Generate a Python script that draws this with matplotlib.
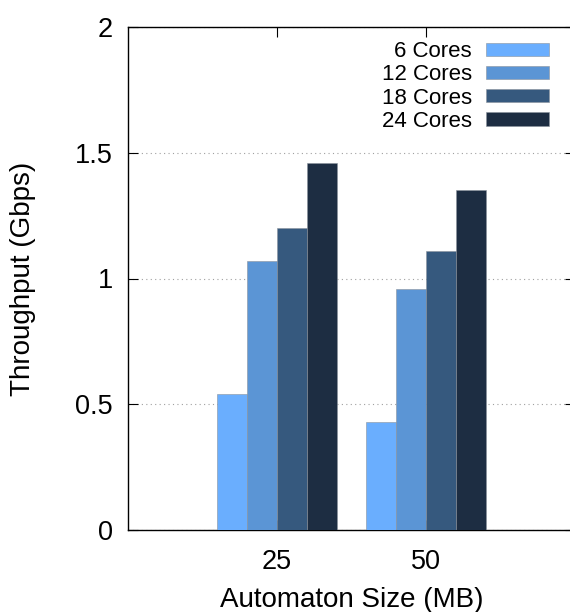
import matplotlib.pyplot as plt
import numpy as np

plt.rcParams['font.family'] = ['Liberation Sans', 'DejaVu Sans']

sizes = ['25', '50']
cores = ['6 Cores', '12 Cores', '18 Cores', '24 Cores']
throughput = {
    '6 Cores': [0.54, 0.43],
    '12 Cores': [1.07, 0.96],
    '18 Cores': [1.20, 1.11],
    '24 Cores': [1.46, 1.35],
}
colors = ['#6aaefe', '#5b95d5', '#36597e', '#1d2d42']


def main():
    fig = plt.figure(figsize=(5.7, 6.12), dpi=100)
    ax = fig.add_axes([128 / 570, 82 / 612, 447 / 570, 503 / 612])

    x = np.arange(1, len(sizes) + 1)
    width = 0.2
    for i, (name, col) in enumerate(zip(cores, colors)):
        ax.bar(x + (i - 1.5) * width, throughput[name], width, color=col,
               edgecolor='#8a929c', linewidth=0.4, label=name, zorder=3)

    ax.set_xlim(0, 3)
    ax.set_ylim(0, 2)
    ax.set_xticks(x)
    ax.set_xticklabels(sizes)
    ax.set_yticks([0, 0.5, 1, 1.5, 2])
    ax.set_yticklabels(['0', '0.5', '1', '1.5', '2'])
    ax.tick_params(direction='in', top=True, right=True, labelsize=19.5,
                   length=7, width=0.8)
    ax.tick_params(axis='x', pad=14)
    ax.tick_params(axis='y', pad=11)
    ax.yaxis.grid(True, linestyle=(0, (1, 3)), color='#a0a0a0', linewidth=0.8, zorder=0)
    for s in ax.spines.values():
        s.set_linewidth(1.0)

    ax.set_xlabel('Automaton Size (MB)', fontsize=20, labelpad=8)
    ax.set_ylabel('Throughput (Gbps)', fontsize=20, labelpad=28)

    ax.legend(loc='upper right', bbox_to_anchor=(0.942, 0.972), frameon=False,
              markerfirst=False, fontsize=16, handlelength=2.85, handleheight=0.55,
              labelspacing=0.1, handletextpad=0.63, borderaxespad=0, borderpad=0)

    fig.savefig('out.png', dpi=100)


if __name__ == '__main__':
    main()
